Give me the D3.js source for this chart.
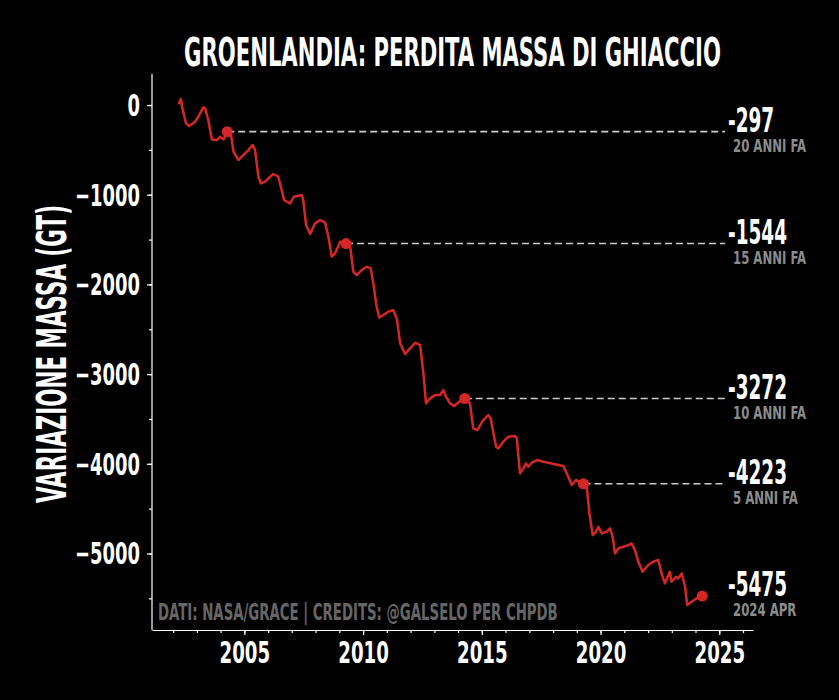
<!DOCTYPE html>
<html>
<head>
<meta charset="utf-8">
<script src="https://cdn.jsdelivr.net/npm/d3@7"></script>
<style>
html, body { margin: 0; background: #000; }
svg text { font-family: "Liberation Sans Narrow", "DejaVu Sans Condensed", "Roboto Condensed", "Liberation Sans", sans-serif; font-weight: bold; }
</style>
</head>
<body>
<svg id="chart" width="839" height="700"></svg>
<script>
// Greenland ice mass change (Gt)
const years = [
  2002.23, 2002.33, 2002.37, 2002.54, 2002.68, 2002.92, 2003.06, 2003.27, 2003.35, 2003.48,
  2003.63, 2003.84, 2003.98, 2004.12, 2004.28, 2004.43, 2004.54, 2004.75, 2004.89, 2005.03,
  2005.17, 2005.35, 2005.45, 2005.59, 2005.69, 2005.87, 2006.01, 2006.22, 2006.43, 2006.57,
  2006.67, 2006.92, 2007.09, 2007.42, 2007.48, 2007.60, 2007.77, 2007.98, 2008.19, 2008.40,
  2008.54, 2008.68, 2008.82, 2009.03, 2009.28, 2009.45, 2009.59, 2009.73, 2009.94, 2010.15,
  2010.32, 2010.43, 2010.57, 2010.68, 2010.85, 2011.06, 2011.27, 2011.42, 2011.56, 2011.77,
  2011.98, 2012.19, 2012.40, 2012.54, 2012.65, 2012.82, 2013.03, 2013.24, 2013.38, 2013.49,
  2013.66, 2013.83, 2014.05, 2014.28, 2014.50, 2014.64, 2014.81, 2015.06, 2015.27, 2015.37,
  2015.60, 2015.69, 2015.91, 2016.12, 2016.40, 2016.47, 2016.61, 2016.75, 2016.86, 2016.96,
  2017.10, 2017.34, 2017.59, 2018.43, 2018.64, 2018.79, 2018.97, 2019.28, 2019.42, 2019.53,
  2019.67, 2019.81, 2019.91, 2020.05, 2020.26, 2020.40, 2020.51, 2020.61, 2020.75, 2020.96,
  2021.17, 2021.31, 2021.45, 2021.59, 2021.77, 2022.01, 2022.22, 2022.43, 2022.57, 2022.71,
  2022.92, 2022.99, 2023.18, 2023.27, 2023.42, 2023.56, 2023.65, 2023.84, 2024.05, 2024.28
];
const mass = [
  10, 67, -11, -204, -234, -186, -130, -26, -37, -167,
  -383, -390, -353, -383, -297, -316, -520, -613, -576, -539,
  -502, -446, -502, -799, -874, -855, -818, -769, -799, -948,
  -1059, -1096, -1022, -1004, -1059, -1338, -1438, -1319, -1282, -1312,
  -1468, -1691, -1654, -1524, -1544, -1561, -1859, -1896, -1840, -1803,
  -1821, -1988, -2249, -2368, -2342, -2304, -2286, -2379, -2657, -2776,
  -2713, -2650, -2676, -2992, -3326, -3270, -3234, -3234, -3178, -3252,
  -3326, -3356, -3308, -3272, -3326, -3605, -3624, -3512, -3457, -3493,
  -3810, -3828, -3754, -3698, -3691, -3716, -4106, -4051, -3995, -4033,
  -3988, -3958, -3977, -4025, -4144, -4237, -4181, -4223, -4256, -4552,
  -4795, -4758, -4702, -4776, -4758, -4720, -4813, -4999, -4943, -4925,
  -4906, -4888, -4962, -5092, -5204, -5129, -5092, -5073, -5222, -5333,
  -5204, -5315, -5259, -5278, -5222, -5371, -5575, -5538, -5500, -5475
];

// reference points: 20, 15, 10, 5 years back and the latest reading
const markYears = [2004.28, 2009.28, 2014.28, 2019.28, 2024.28];
const markMass = [-297, -1544, -3272, -4223, -5475];
const markNotes = ["20 ANNI FA", "15 ANNI FA", "10 ANNI FA", "5 ANNI FA", "2024 APR"];

const xMajor = [2005, 2010, 2015, 2020, 2025];
const xMinor = d3.range(2002, 2027);
const yMajor = [0, -1000, -2000, -3000, -4000, -5000];
const yMinor = d3.range(-5500, 1, 500);

const titleText = "GROENLANDIA: PERDITA MASSA DI GHIACCIO";
const yLabelText = "VARIAZIONE MASSA (GT)";
const creditText = "DATI: NASA/GRACE | CREDITS: @GALSELO PER CHPDB";

const W = 839, H = 700;
const red = "#d62728";

const svg = d3.select("#chart");
svg.append("rect").attr("width", W).attr("height", H).attr("fill", "#000");

const x = d3.scaleLinear().domain([2001.11, 2026.42]).range([152, 753]);
const y = d3.scaleLinear().domain([-5853, 346]).range([630, 74]);

// no condensed display font offline, so squeeze a narrow one to the source widths
function squeeze(size, ref, target) {
  const t = svg.append("text").attr("font-size", size).text(ref);
  const w = t.node().getComputedTextLength();
  t.remove();
  return target / w;
}
// horizontal scale around the text anchor
function fit(sel, k) {
  sel.each(function () {
    const t = d3.select(this);
    const tx = +t.attr("x") || 0, ty = +t.attr("y") || 0;
    const pre = t.attr("transform") || `translate(${tx},${ty})`;
    t.attr("x", 0).attr("y", 0).attr("transform", `${pre} scale(${k},1)`);
  });
}
// tspans keep one text element, so squeeze them by length
function fitSpan(sel, k) {
  sel.each(function () {
    const w = this.getComputedTextLength();
    d3.select(this).attr("textLength", w * k).attr("lengthAdjust", "spacingAndGlyphs");
  });
}

// x axis
const gx = svg.append("g").attr("transform", "translate(0,630)");
gx.call(d3.axisBottom(x).tickValues(xMinor).tickSize(3).tickSizeOuter(0).tickFormat(""));
gx.append("g").call(d3.axisBottom(x).tickValues(xMajor).tickSize(5).tickSizeOuter(0).tickFormat(d3.format("d")))
  .select(".domain").remove();
gx.selectAll("path, line").attr("stroke", "#fff").attr("stroke-width", 1.2);
const xt = gx.selectAll("text").filter(function () { return this.textContent !== ""; })
  .attr("fill", "#fff").attr("font-size", 31).attr("y", 33).attr("dy", 0);
fit(xt, squeeze(31, "2005", 50.6));

// y axis
const gy = svg.append("g").attr("transform", "translate(152,0)");
gy.call(d3.axisLeft(y).tickValues(yMinor).tickSize(3).tickSizeOuter(0).tickFormat(""));
gy.append("g").call(d3.axisLeft(y).tickValues(yMajor).tickSize(5).tickSizeOuter(0).tickFormat(d3.format("d")))
  .select(".domain").remove();
gy.select(".domain").attr("d", "M0,74V630");
gy.selectAll("path, line").attr("stroke", "#fff").attr("stroke-width", 1.2);
const yt = gy.selectAll("text").filter(function () { return this.textContent !== ""; })
  .attr("fill", "#fff").attr("font-size", 30).attr("x", -12).attr("y", 0).attr("dy", 10.5);
fit(yt, squeeze(30, "1000", 50));

// reference dashes
svg.append("g").selectAll("line")
  .data(markYears.slice(0, 4))
  .join("line")
  .attr("x1", d => x(d))
  .attr("x2", 725)
  .attr("y1", (d, i) => y(markMass[i]))
  .attr("y2", (d, i) => y(markMass[i]))
  .attr("stroke", "#cccccc")
  .attr("stroke-width", 1.6)
  .attr("stroke-dasharray", "7,4");

// the series
const line = d3.line().x(i => x(years[i])).y(i => y(mass[i]));
svg.append("path")
  .attr("d", line(d3.range(years.length)))
  .attr("fill", "none")
  .attr("stroke", red)
  .attr("stroke-width", 2.5)
  .attr("stroke-linejoin", "round");

svg.append("g").selectAll("circle")
  .data(markYears)
  .join("circle")
  .attr("cx", d => x(d))
  .attr("cy", (d, i) => y(markMass[i]))
  .attr("r", 5.5)
  .attr("fill", red);

// value + note labels on the right
const kVal = squeeze(33, "-1544", 59);
const kNote = squeeze(18.5, "15 ANNI FA", 73);
const labels = svg.append("g").selectAll("text")
  .data(markMass)
  .join("text")
  .attr("x", 728)
  .attr("y", d => y(d));
const valSpans = labels.append("tspan")
  .attr("font-size", 33)
  .attr("fill", "#fff")
  .text(d => String(d));
const noteSpans = labels.append("tspan")
  .attr("x", 733)
  .attr("dy", 20)
  .attr("font-size", 18.5)
  .attr("fill", "#8c8c8c")
  .text((d, i) => markNotes[i]);
fitSpan(valSpans, kVal);
fitSpan(noteSpans, kNote);

// title, axis label, credits
const title = svg.append("text")
  .attr("x", 452.5).attr("y", 66)
  .attr("text-anchor", "middle")
  .attr("font-size", 39)
  .attr("fill", "#fff")
  .text(titleText);
fit(title, squeeze(39, titleText, 537));

const yl = svg.append("text")
  .attr("transform", "translate(66,354) rotate(-90)")
  .attr("text-anchor", "middle")
  .attr("font-size", 41)
  .attr("fill", "#fff")
  .text(yLabelText);
fit(yl, squeeze(41, yLabelText, 298));

const credit = svg.append("text")
  .attr("x", 158).attr("y", 619.5)
  .attr("font-size", 23)
  .attr("fill", "#666666")
  .text(creditText);
fit(credit, squeeze(23, creditText, 400));
</script>
</body>
</html>
